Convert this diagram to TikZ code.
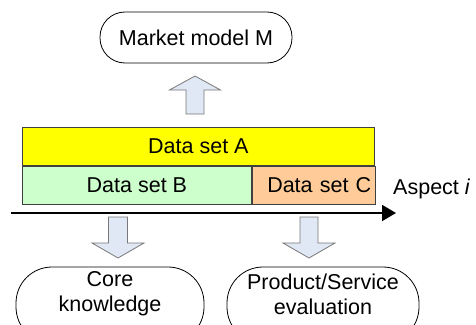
\documentclass[tikz,border=0pt]{standalone}
\usepackage{fontspec}
\setmainfont{Liberation Sans}
\usetikzlibrary{arrows.meta,calc}
\definecolor{setA}{RGB}{255,255,0}
\definecolor{setB}{RGB}{204,255,204}
\definecolor{setC}{RGB}{255,204,153}
\definecolor{arrowfill}{RGB}{225,232,245}
\definecolor{arrowline}{RGB}{120,120,120}

\begin{document}
\begin{tikzpicture}[x=1pt,y=-1pt,
  every node/.style={font=\fontsize{21.5}{25}\selectfont},
  oval/.style={draw=black, line width=0.8pt, rounded corners=#1, inner sep=0pt},
  dataset/.style={draw=black!75, line width=0.8pt, minimum height=38pt, inner sep=0pt, anchor=north west},
  blockarrow/.style={draw=arrowline, fill=arrowfill, line width=0.8pt, line join=miter},
  axis/.style={line width=2pt, -{Triangle[length=14pt,width=16pt]}}]
\useasboundingbox (0,0) rectangle (476,324);

% result of the analysis
\node[oval=25pt, minimum width=192pt, minimum height=51pt] (mm) at (196,37.5) {Market model M};

% data sets along the aspect axis
\node[dataset, fill=setA, minimum width=352pt] (A) at (22,127) {Data set A};
\node[dataset, fill=setB, minimum width=229pt] (B) at (A.south west) {Data set B};
\node[dataset, fill=setC, minimum width=123pt, text width=115pt, align=right, inner xsep=4pt] (C) at (B.north east) {Data set C};

% aspect axis
\coordinate (ax0) at (11,213);
\coordinate (ax1) at (396,213);
\draw[axis] (ax0) -- (ax1);
\node[anchor=base west, inner sep=0pt] (asp) at (393,194) {Aspect \textit{i}};

% block arrow up to the market model
\coordinate (upT) at (195,76);
\coordinate (upB) at (195,114);
\draw[blockarrow] ($(upB)+(-9,0)$) -- ($(upB)+(-9,-24)$) -- ($(upB)+(-25.5,-24)$) -- (upT)
  -- ($(upB)+(25.5,-24)$) -- ($(upB)+(9,-24)$) -- ($(upB)+(9,0)$) -- cycle;

% block arrows down to the outputs
\coordinate (dlT) at (118,217);
\coordinate (dlH) at (118,258);
\draw[blockarrow] ($(dlT)+(-9.5,0)$) -- ($(dlT)+(-9.5,26)$) -- ($(dlT)+(-26,26)$) -- (dlH)
  -- ($(dlT)+(26,26)$) -- ($(dlT)+(9.5,26)$) -- ($(dlT)+(9.5,0)$) -- cycle;
\coordinate (drT) at (309,217);
\coordinate (drH) at (309,258);
\draw[blockarrow] ($(drT)+(-9,0)$) -- ($(drT)+(-9,26)$) -- ($(drT)+(-26,26)$) -- (drH)
  -- ($(drT)+(26,26)$) -- ($(drT)+(9,26)$) -- ($(drT)+(9,0)$) -- cycle;

% outputs
\node[oval=36pt, minimum width=188pt, minimum height=76pt] (ck) at (110,305) {};
\node[align=center, inner sep=0pt] (cktext) at (110,294) {Core\\knowledge};
\node[oval=36pt, minimum width=192pt, minimum height=76pt] (pe) at (323,305) {};
\node[align=center, inner sep=0pt] (petext) at (323,294) {Product/Service\\evaluation};
\end{tikzpicture}
\end{document}
